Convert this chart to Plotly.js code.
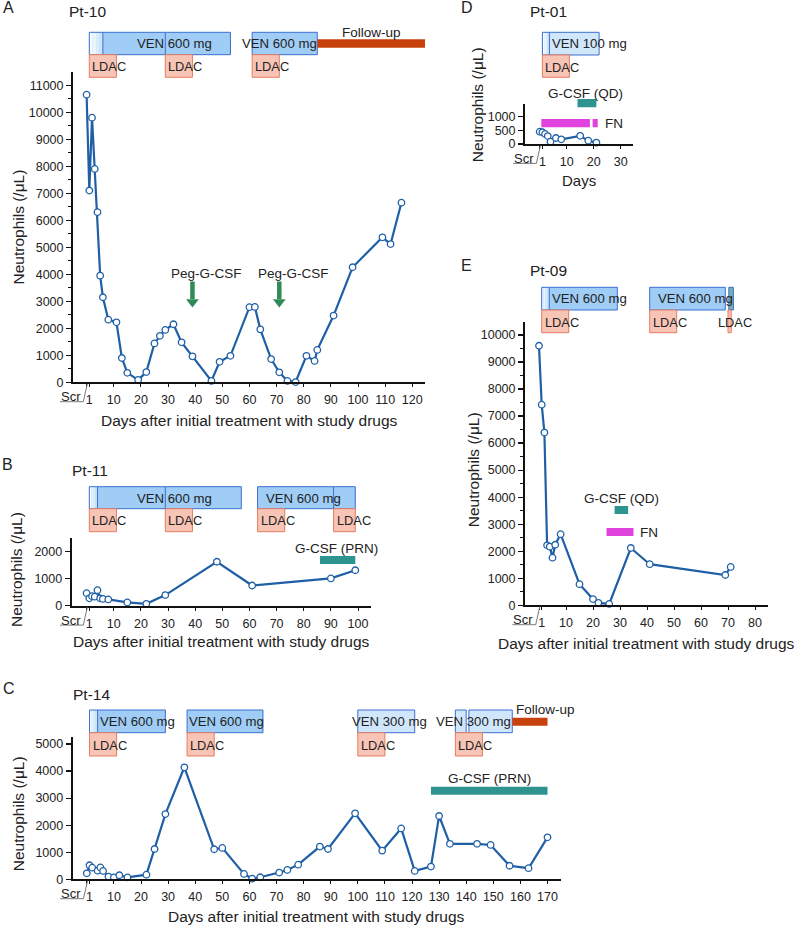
<!DOCTYPE html>
<html>
<head>
<meta charset="utf-8">
<script src="https://cdn.plot.ly/plotly-3.0.1.min.js"></script>
<style>html,body{margin:0;padding:0;background:#fff}#chart{width:800px;height:925px}</style>
</head>
<body>
<div id="chart"></div>
<script>
// ======================= DATA =======================
// Panel A : Pt-10
const daysA = [0,1,2,3,4,5,6,8,11,13,15,19,22,25,27,29,32,35,39,46,49,53,60,62,64,68,71,74,77,81,84,85,91,98,109,112,116];
const neutA = [10650,7100,9800,7900,6300,3950,3150,2320,2220,900,350,90,380,1440,1720,1940,2150,1480,960,50,760,980,2780,2790,1960,860,370,50,10,980,790,1200,2470,4260,5370,5120,6650];
const pegDaysA = [39, 71];
const venStartA = [1, 61];
const venEndA = [53, 85];
const venRampA = [6, null];
const venSplitA = [29];
const venTextA = ['VEN 600 mg', 'VEN 600 mg'];
const ldacStartA = [1, 29, 61];
const ldacEndA = [11, 39, 71];
const followA = [85, 125];

// Panel B : Pt-11
const daysB = [0,1,2,3,4,5,6,8,15,22,29,48,61,90,99];
const neutB = [460,270,350,330,570,270,250,230,120,70,390,1610,740,1000,1300];
const venStartB = [1, 63];
const venEndB = [57, 99];
const venRampB = [4, null];
const venSplitB = [29, 91];
const venTextB = ['VEN 600 mg', 'VEN 600 mg'];
const ldacStartB = [1, 29, 63, 91];
const ldacEndB = [11, 39, 73, 99];
const gcsfB = [86, 99];

// Panel C : Pt-14
const daysC = [0,1,2,4,5,6,8,10,12,15,22,25,29,36,47,50,58,61,64,71,74,78,86,89,99,109,116,121,127,130,134,144,149,156,163,170];
const neutC = [220,520,430,320,440,310,100,70,150,70,170,1120,2410,4140,1110,1160,200,25,75,250,345,540,1210,1120,2440,1060,1880,310,470,2340,1310,1310,1270,500,410,1550];
const venStartC = [1, 37, 100, 136, 141];
const venEndC = [29, 65, 121, 140, 157];
const venRampC = [4, null, null, null, null];
const venDoseC = [600, 600, 300, 300, 300];
const venTextC = ['VEN 600 mg', 'VEN 600 mg', 'VEN 300 mg', 'VEN 300 mg'];
const ldacStartC = [1, 37, 100, 136];
const ldacEndC = [11, 47, 110, 146];
const followC = [157, 170];
const gcsfC = [127, 170];

// Panel D : Pt-01
const daysD = [0,1,2,3,4,6,8,15,18,21];
const neutD = [450,430,370,290,85,220,170,300,120,50];
const venStartD = [1];
const venEndD = [22];
const venRampD = [3.6];
const venTextD = ['VEN 100 mg'];
const ldacStartD = [1];
const ldacEndD = [11];
const gcsfD = [14, 21];
const fnStartD = [0.6, 19.6];
const fnEndD = [18.6, 21.5];

// Panel E : Pt-09
const daysE = [0,1,2,3,4,5,6,8,15,20,22,26,34,41,69,71];
const neutE = [9600,7420,6390,2220,2170,1760,2240,2630,780,230,90,50,2120,1520,1120,1420];
const venStartE = [1, 41];
const venEndE = [29, 69];
const venRampE = [3.8, null];
const venTextE = ['VEN 600 mg', 'VEN 600 mg'];
const venOtherE = [70.3, 72];
const ldacStartE = [1, 41, 70];
const ldacEndE = [11, 51, 71.2];
const gcsfE = [28, 33];
const fnE = [25, 35];

// ======================= STYLE / LAYOUT =======================
const FONT = 'Liberation Sans, Arial, Helvetica, sans-serif';
const TXT = '#222222';
const LINE = '#1f5fa6';
const VEN_FILL = '#9fcdf6';
const VEN_LIGHT = '#d0e7fb';
const VEN_EDGE = '#3b6fd1';
const RAMP = ['#f7fbff', '#eaf4fd', '#dcedfc', '#cde5fa'];
const LDAC_FILL = '#f8c4b6';
const LDAC_EDGE = '#e57c62';
const FOLLOW = '#c8400c';
const TEAL = '#2f9490';
const TEALGRAY = '#7aaeb0';
const MAGENTA = '#e042de';
const GREEN = '#2e8b57';
const PEG_TOP = 3730, PEG_SHAFT_END = 3080, PEG_HEAD = 2975;

const W = 800, H = 925;
const PY = y => 1 - y / H;
const PXX = x => x / W;

// axis frames in pixels
const P = {
  A: {x:'x',  y:'y',  left:73,   right:425,   top:72,    bottom:382.3, day0:86.6,  ppd:2.714, ymax:11490},
  B: {x:'x2', y:'y2', left:71.7, right:370.7, top:538.3, bottom:605.7, day0:86.6,  ppd:2.714, ymax:2470},
  C: {x:'x3', y:'y3', left:72.7, right:560.7, top:736.7, bottom:879.3, day0:86.8,  ppd:2.71,  ymax:5270},
  D: {x:'x4', y:'y4', left:525,  right:633.3, top:104,   bottom:144,   day0:539.7, ppd:2.7,   ymax:1465},
  E: {x:'x5', y:'y5', left:525,  right:768.3, top:321.7, bottom:605.3, day0:539,   ppd:2.7,   ymax:10490}
};

const shapes = [];
const annotations = [];

function box(ax, d0, d1, top, bot, fill, edge, w) {
  shapes.push({type:'rect', xref:ax.x, yref:'paper', x0:d0, x1:d1, y0:PY(bot), y1:PY(top),
    fillcolor:fill, line:{color:edge || 'rgba(0,0,0,0)', width: edge ? (w || 1) : 0}, layer:'above'});
}
function vline(ax, d, top, bot, color) {
  shapes.push({type:'line', xref:ax.x, yref:'paper', x0:d, x1:d, y0:PY(bot), y1:PY(top),
    line:{color:color, width:1}, layer:'above'});
}
function text(ax, d, yPx, t, size, xanchor, xshift) {
  annotations.push({xref: ax ? ax.x : 'paper', yref:'paper', x:d, y:PY(yPx), text:t, showarrow:false,
    xanchor: xanchor || 'center', yanchor:'middle', xshift: xshift || 0,
    font:{family:FONT, size:size, color:TXT}});
}
function venRow(ax, starts, ends, ramps, fills, splits, top, bot) {
  for (let i = 0; i < starts.length; i++) {
    box(ax, starts[i], ends[i], top, bot, fills[i]);
    if (ramps[i] != null) {
      const n = RAMP.length, step = (ramps[i] - starts[i]) / n;
      for (let k = 0; k < n; k++) box(ax, starts[i] + k * step, starts[i] + (k + 1) * step, top, bot, RAMP[k]);
      vline(ax, ramps[i], top, bot, VEN_EDGE);
    }
    box(ax, starts[i], ends[i], top, bot, 'rgba(0,0,0,0)', VEN_EDGE);
  }
  (splits || []).forEach(s => vline(ax, s, top, bot, VEN_EDGE));
}
function ldacRow(ax, starts, ends, top, bot) {
  for (let i = 0; i < starts.length; i++) box(ax, starts[i], ends[i], top, bot, LDAC_FILL, LDAC_EDGE);
}
function scrMark(p) {
  const yb = p.bottom;
  shapes.push({type:'path', xref:'paper', yref:'paper',
    path:'M' + PXX(p.day0 - 26.6) + ',' + PY(yb + 19.4) + ' L' + PXX(p.day0 - 3.3) + ',' + PY(yb + 19.4) +
         ' L' + PXX(p.day0 + 0.7) + ',' + PY(yb + 1.6),
    line:{color:'#7a7a7a', width:1}, layer:'above'});
  text(null, PXX(p.day0 - 3.6), yb + 14.5, 'Scr', 13, 'right');
}
function panelTitles(p, letter, letterXY, pt, ptXY, xtitle, xtitleY, xtSize, ytitleXY) {
  text(null, PXX(letterXY[0]), letterXY[1], letter, 16);
  text(null, PXX(ptXY[0]), ptXY[1], pt, 15.5);
  text(null, PXX((p.left + p.right) / 2), xtitleY, xtitle, xtSize);
  annotations.push({xref:'paper', yref:'paper', x:PXX(ytitleXY[0]), y:PY(ytitleXY[1]), text:'Neutrophils (/μL)',
    textangle:-90, showarrow:false, xanchor:'center', yanchor:'middle', font:{family:FONT, size:15.5, color:TXT}});
}

// ---------- Panel A ----------
{
  const p = P.A;
  venRow(p, venStartA, venEndA, venRampA, [VEN_FILL, VEN_FILL], venSplitA, 32.3, 54.7);
  ldacRow(p, ldacStartA, ldacEndA, 54.7, 77.3);
  box(p, followA[0], followA[1], 39.3, 47.7, FOLLOW);
  text(p, 32.5, 43.7, venTextA[0], 13.2);
  text(p, 70.9, 43.7, venTextA[1], 13.2);
  ldacStartA.forEach(d => text(p, d, 66.5, 'LDAC', 12.8, 'left', 1));
  text(p, 105, 32.3, 'Follow-up', 13.5);
  pegDaysA.forEach((d, i) => {
    shapes.push({type:'line', xref:p.x, yref:p.y, x0:d, x1:d, y0:PEG_TOP, y1:PEG_SHAFT_END, line:{color:GREEN, width:4.5}, layer:'above'});
    annotations.push({xref:p.x, yref:p.y, x:d + 5.1, y:4040, text:'Peg-G-CSF', showarrow:false, xanchor:'center', yanchor:'middle',
      font:{family:FONT, size:13.5, color:TXT}});
  });
  scrMark(p);
  panelTitles(p, 'A', [8, 7], 'Pt-10', [87.5, 11.7], 'Days after initial treatment with study drugs', 420.7, 15.5, [18, 227.5]);
}
// ---------- Panel B ----------
{
  const p = P.B;
  venRow(p, venStartB, venEndB, venRampB, [VEN_FILL, VEN_FILL], venSplitB, 486.7, 508.7);
  ldacRow(p, ldacStartB, ldacEndB, 508.7, 531.7);
  text(p, 32.3, 498.3, venTextB[0], 13.2);
  text(p, 80.1, 498.3, venTextB[1], 13.2);
  ldacStartB.forEach(d => text(p, d, 520.7, 'LDAC', 12.8, 'left', 1));
  box(p, gcsfB[0], gcsfB[1], 556, 564, TEAL);
  text(p, 92.1, 548.3, 'G-CSF (PRN)', 13.5);
  scrMark(p);
  panelTitles(p, 'B', [7.8, 464.7], 'Pt-11', [90, 470], 'Days after initial treatment with study drugs', 641.7, 15.5, [16, 570]);
}
// ---------- Panel C ----------
{
  const p = P.C;
  venRow(p, venStartC, venEndC, venRampC, venDoseC.map(v => v >= 600 ? VEN_FILL : VEN_LIGHT), [], 710, 732.7);
  ldacRow(p, ldacStartC, ldacEndC, 732.7, 756);
  box(p, followC[0], followC[1], 717.7, 725.7, FOLLOW);
  text(p, 169.2, 709, 'Follow-up', 13.5);
  const venLblDays = [18.7, 51.7, 111.6, 142.8];
  venTextC.forEach((t, i) => text(p, venLblDays[i], 721.7, t, 13.2));
  ldacStartC.forEach(d => text(p, d, 745.5, 'LDAC', 12.8, 'left', 1));
  box(p, gcsfC[0], gcsfC[1], 786.7, 794.7, TEAL);
  text(p, 148.5, 778.3, 'G-CSF (PRN)', 13.5);
  scrMark(p);
  panelTitles(p, 'C', [8.7, 688.3], 'Pt-14', [91.7, 694.3], 'Days after initial treatment with study drugs', 916, 15.5, [18.3, 814]);
}
// ---------- Panel D ----------
{
  const p = P.D;
  venRow(p, venStartD, venEndD, venRampD, [VEN_LIGHT], [], 32.3, 55);
  ldacRow(p, ldacStartD, ldacEndD, 55, 77.3);
  text(p, 18.6, 43.7, venTextD[0], 13.2);
  ldacStartD.forEach(d => text(p, d, 67, 'LDAC', 12.8, 'left', 1));
  box(p, gcsfD[0], gcsfD[1], 99, 107.3, TEAL);
  text(p, 17.1, 93.3, 'G-CSF (QD)', 13.5);
  for (let i = 0; i < fnStartD.length; i++) box(p, fnStartD[i], fnEndD[i], 119, 127.3, MAGENTA);
  text(p, 23.6, 123.3, 'FN', 13.5, 'left');
  scrMark(p);
  panelTitles(p, 'D', [466.7, 7], 'Pt-01', [548, 11.7], 'Days', 180, 15, [478.3, 105]);
}
// ---------- Panel E ----------
{
  const p = P.E;
  venRow(p, venStartE, venEndE, venRampE, [VEN_FILL, VEN_FILL], [], 287.3, 310);
  box(p, venOtherE[0], venOtherE[1], 287.3, 310, TEALGRAY, VEN_EDGE);
  ldacRow(p, ldacStartE, ldacEndE, 310, 332.7);
  text(p, 18.8, 298.7, venTextE[0], 13.2);
  text(p, 58, 298.7, venTextE[1], 13.2);
  [1, 41, 65.2].forEach(d => text(p, d, 322, 'LDAC', 12.8, 'left', 1));
  box(p, gcsfE[0], gcsfE[1], 506, 514, TEAL);
  text(p, 30.4, 498.3, 'G-CSF (QD)', 13.5);
  box(p, fnE[0], fnE[1], 528, 536, MAGENTA);
  text(p, 36.5, 532, 'FN', 13.5, 'left');
  scrMark(p);
  panelTitles(p, 'E', [466.7, 265.8], 'Pt-09', [548, 270], 'Days after initial treatment with study drugs', 643.3, 15.5, [473.3, 470]);
}

// ---------- traces ----------
function series(x, y, ax) {
  return {type:'scatter', mode:'lines+markers', x:x, y:y, xaxis:ax.x, yaxis:ax.y, cliponaxis:false,
    line:{color:LINE, width:2.2},
    marker:{symbol:'circle', size:6.5, color:'#ffffff', line:{color:LINE, width:1.3}},
    hoverinfo:'skip', showlegend:false};
}
const traces = [
  series(daysA, neutA, P.A),
  series(daysB, neutB, P.B),
  series(daysC, neutC, P.C),
  series(daysD, neutD, P.D),
  series(daysE, neutE, P.E),
  {type:'scatter', mode:'markers', x:pegDaysA, y:pegDaysA.map(() => PEG_HEAD), xaxis:'x', yaxis:'y', cliponaxis:false,
   marker:{symbol:'triangle-down', size:11, color:GREEN, line:{width:0}}, hoverinfo:'skip', showlegend:false}
];

// ---------- axes ----------
function xAxis(p, ticks) {
  return {domain:[PXX(p.left), PXX(p.right)], anchor:p.y,
    range:[(p.left - p.day0) / p.ppd, (p.right - p.day0) / p.ppd],
    showgrid:false, zeroline:false, showline:true, linecolor:'#111', linewidth:2,
    ticks:'outside', ticklen:3, tickwidth:1, tickcolor:'#111',
    tickvals:[0].concat(ticks), ticktext:[''].concat(ticks.map(String)),
    tickfont:{family:FONT, size:12.5, color:TXT}, ticklabelstandoff:2, fixedrange:true};
}
function yAxis(p, dtick, minor) {
  const vals = [];
  for (let v = 0; v <= p.ymax; v += dtick) vals.push(v);
  const a = {domain:[PY(p.bottom), PY(p.top)], anchor:p.x, range:[0, p.ymax],
    showgrid:false, zeroline:false, showline:true, linecolor:'#111', linewidth:2,
    ticks:'outside', ticklen:5, tickwidth:1.2, tickcolor:'#111',
    tickvals:vals, ticktext:vals.map(String), tickformat:'d',
    tickfont:{family:FONT, size:12.5, color:TXT}, fixedrange:true};
  if (minor) a.minor = {dtick:minor, ticks:'outside', ticklen:3, tickwidth:1, tickcolor:'#111', showgrid:false};
  return a;
}
const ticksA = [1,10,20,30,40,50,60,70,80,90,100,110,120];
const ticksB = [1,10,20,30,40,50,60,70,80,90,100];
const ticksC = [1,10,20,30,40,50,60,70,80,90,100,110,120,130,140,150,160,170];
const ticksD = [1,10,20,30];
const ticksE = [1,10,20,30,40,50,60,70,80];

const layout = {
  width:W, height:H, margin:{l:0, r:0, t:0, b:0}, showlegend:false,
  paper_bgcolor:'#ffffff', plot_bgcolor:'rgba(0,0,0,0)',
  font:{family:FONT, color:TXT},
  xaxis: xAxis(P.A, ticksA),  yaxis: yAxis(P.A, 1000, 500),
  xaxis2: xAxis(P.B, ticksB), yaxis2: yAxis(P.B, 1000),
  xaxis3: xAxis(P.C, ticksC), yaxis3: yAxis(P.C, 1000),
  xaxis4: xAxis(P.D, ticksD), yaxis4: yAxis(P.D, 500),
  xaxis5: xAxis(P.E, ticksE), yaxis5: yAxis(P.E, 1000, 500),
  shapes: shapes, annotations: annotations
};

Plotly.newPlot('chart', traces, layout, {staticPlot:true, displayModeBar:false});
</script>
</body>
</html>
